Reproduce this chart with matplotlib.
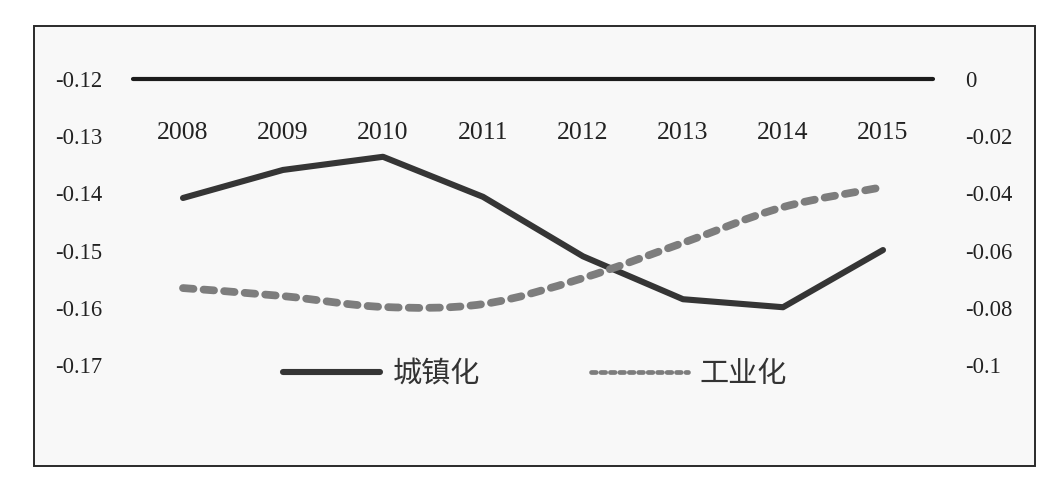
import matplotlib
matplotlib.use('Agg')
import matplotlib.pyplot as plt
from matplotlib.path import Path
from matplotlib.patches import PathPatch, Rectangle
from matplotlib.lines import Line2D
from matplotlib.font_manager import FontProperties

years = ['2008', '2009', '2010', '2011', '2012', '2013', '2014', '2015']
urban = [-0.1408, -0.1359, -0.1336, -0.1406, -0.1510, -0.1585, -0.1599, -0.1499]
industry = [-0.0731, -0.0759, -0.0797, -0.0787, -0.0696, -0.0573, -0.0448, -0.0378]
left_ticks = [-0.12, -0.13, -0.14, -0.15, -0.16, -0.17]
left_labels = ['-0.12', '-0.13', '-0.14', '-0.15', '-0.16', '-0.17']
right_ticks = [0, -0.02, -0.04, -0.06, -0.08, -0.1]
right_labels = ['0', '-0.02', '-0.04', '-0.06', '-0.08', '-0.1']
series_names = ['城镇化', '工业化']

plt.rcParams['font.family'] = ['Liberation Serif', 'DejaVu Sans']

W, H = 1051, 484
fig = plt.figure(figsize=(W / 100, H / 100), dpi=100)
fig.patch.set_facecolor('white')
fig.patches.append(Rectangle((34 / W, (H - 466) / H), (1035 - 34) / W, (466 - 26) / H,
                             transform=fig.transFigure, facecolor='#f8f8f8',
                             edgecolor='#2a2a2a', lw=1.4, zorder=-5))

ax = fig.add_axes([133 / W, (H - 365) / H, 800 / W, 286 / H])
ax.patch.set_visible(False)
xs = list(range(len(years)))
ax.set_xlim(-0.5, len(years) - 0.5)
ax.set_ylim(min(left_ticks), max(left_ticks))
ax.plot(xs, urban, color='#353535', lw=4.4, solid_joinstyle='round',
        solid_capstyle='round', clip_on=False, zorder=3)
for s in ['left', 'right', 'bottom']:
    ax.spines[s].set_visible(False)
ax.spines['top'].set_linewidth(3)
ax.spines['top'].set_color('#1c1c1c')
ax.spines['top'].set_capstyle('round')
ax.xaxis.set_ticks_position('top')
ax.set_xticks(xs)
ax.set_xticklabels(years)
ax.tick_params(axis='x', length=0, pad=-39, labelsize=18.5, colors='#222222')
for t in ax.get_xticklabels():
    t.set_va('center')
ax.set_yticks(left_ticks)
ax.set_yticklabels(left_labels)
ax.tick_params(axis='y', length=0, pad=22, labelsize=16.3, colors='#222222')

ax2 = ax.twinx()
ax2.set_ylim(min(right_ticks), max(right_ticks))
for s in ['left', 'right', 'bottom', 'top']:
    ax2.spines[s].set_visible(False)
ax2.set_yticks(right_ticks)
ax2.set_yticklabels(right_labels)
ax2.tick_params(axis='y', length=0, pad=23, labelsize=16.3, colors='#222222')

# smoothed line (Catmull-Rom rendered as cubic Bezier path)
pts = list(zip(xs, industry))
verts = [pts[0]]
codes = [Path.MOVETO]
n = len(pts)
for i in range(n - 1):
    p0 = pts[i - 1] if i > 0 else pts[i]
    p1 = pts[i]
    p2 = pts[i + 1]
    p3 = pts[i + 2] if i + 2 < n else pts[i + 1]
    c1 = (p1[0] + (p2[0] - p0[0]) / 6, p1[1] + (p2[1] - p0[1]) / 6)
    c2 = (p2[0] - (p3[0] - p1[0]) / 6, p2[1] - (p3[1] - p1[1]) / 6)
    verts += [c1, c2, p2]
    codes += [Path.CURVE4] * 3
dash_color = '#7d7d7d'
patch = PathPatch(Path(verts, codes), facecolor='none', edgecolor=dash_color, lw=5.6,
                  linestyle=(0, (1.35, 1.3)), capstyle='round', joinstyle='round',
                  clip_on=False, zorder=4)
ax2.add_patch(patch)

handles = [Line2D([], [], color='#353535', lw=4.4, solid_capstyle='round'),
           Line2D([], [], color=dash_color, lw=3.4, dashes=(1.0, 1.0), dash_capstyle='round')]
fig.legend(handles, series_names, loc='center left',
           bbox_to_anchor=(283 / W, (H - 374) / H), bbox_transform=fig.transFigure,
           ncol=2, frameon=False,
           prop=FontProperties(family=['Noto Sans CJK SC'], weight='light', size=21),
           handlelength=3.34, handletextpad=0.41, columnspacing=3.8,
           borderpad=0, borderaxespad=0, labelcolor='#333333')

fig.savefig('out.png', dpi=100, facecolor=fig.get_facecolor())
